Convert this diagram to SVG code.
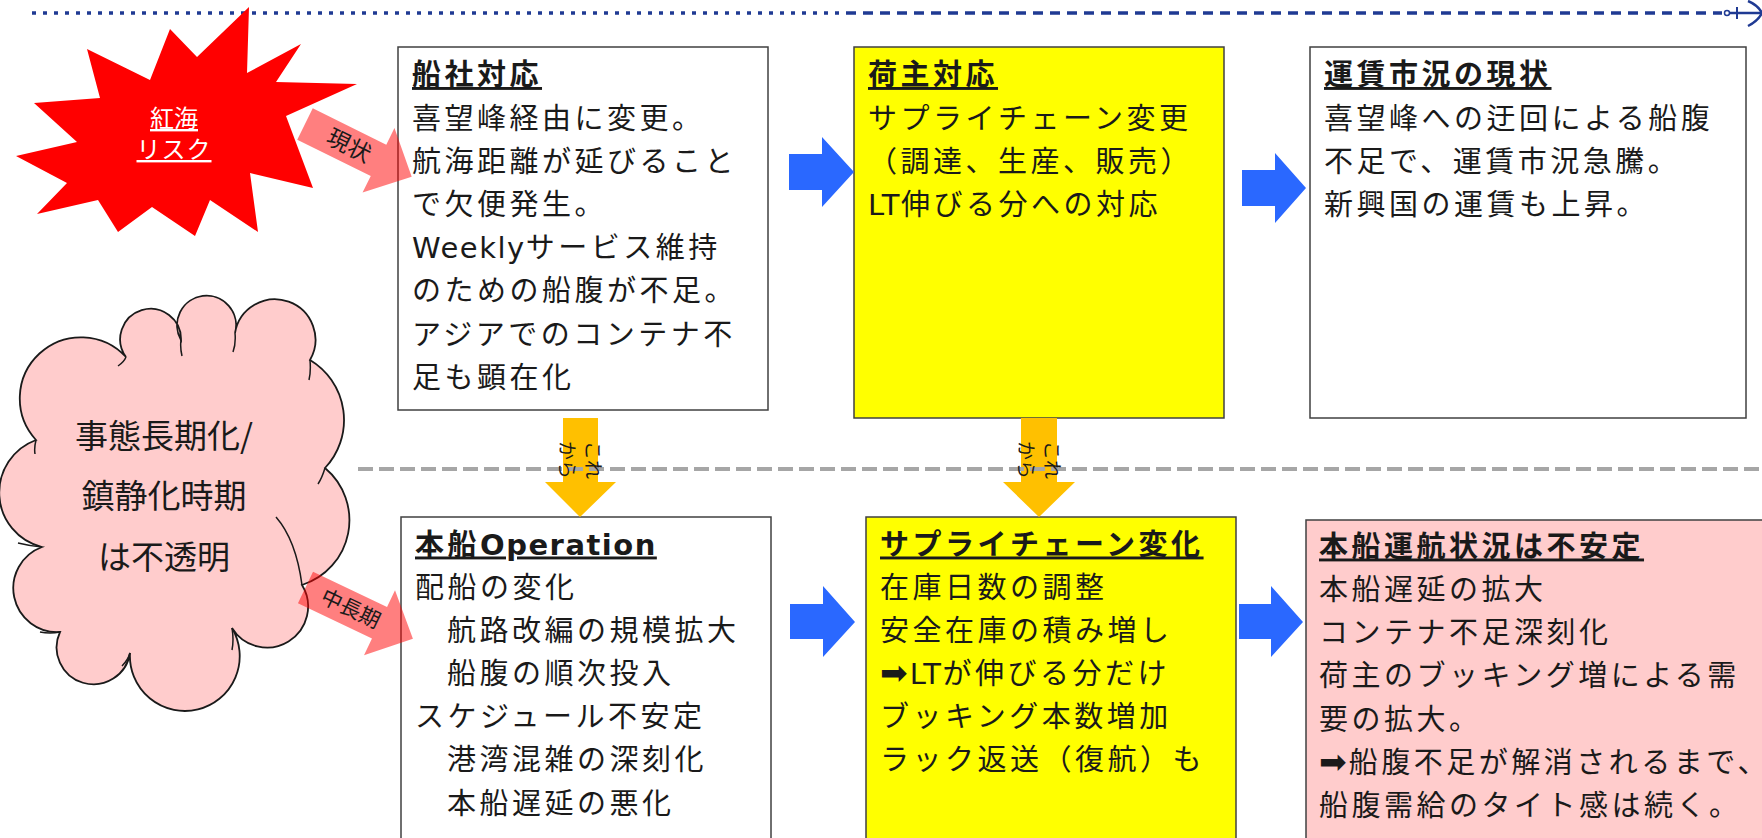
<svg xmlns="http://www.w3.org/2000/svg" width="1762" height="838" viewBox="0 0 1762 838">
<defs>
<style>
.box{stroke:#404040;stroke-width:1.5}
.t{font-family:"DejaVu Sans","Noto Sans CJK JP",sans-serif;font-size:29px;letter-spacing:3.5px;fill:#1a1a1a}
.h{font-weight:bold;text-decoration:underline}
.lat{letter-spacing:1.5px}
.arr{font-size:33px;letter-spacing:2px}
.blue{fill:#2A68FF}
.yel{fill:#FFC000}
.pink{fill:#FF0000;fill-opacity:0.5}
.lbl{font-family:"Noto Sans CJK JP",sans-serif;fill:#1a1a1a}
.tl{stroke:#1F3A93;fill:none}
</style>
</defs>
<rect width="1762" height="838" fill="#ffffff"/>

<g id="timeline">
<line class="tl" x1="32" y1="13" x2="840" y2="13" stroke-width="3.5" stroke-dasharray="4 7"/>
<line class="tl" x1="846" y1="13" x2="1722" y2="13" stroke-width="3.5" stroke-dasharray="10 7"/>
<line class="tl" x1="1730" y1="13" x2="1761" y2="13" stroke-width="2.5"/>
<circle cx="1727" cy="13" r="2.5" fill="#ffffff" stroke="#1F3A93" stroke-width="1.5"/>
<line class="tl" x1="1737" y1="7" x2="1737" y2="19" stroke-width="2"/>
<path class="tl" d="M1748,1 Q1758,5 1762,13 Q1758,21 1748,26" stroke-width="2.5"/>
</g>

<g id="redsea">
<polygon fill="#FF0000" points="249,7 247,73 301,44 276,82 357,84 286,116 313,188 250,173 258,232 210,200 195,236 152,207 118,232 98,200 37,214 67,183 16,156 77,142 34,103 100,98 87,49 150,80 170,29 197,57"/>
<text class="lbl" x="174" y="127" font-size="24" style="fill:#fff" text-anchor="middle" text-decoration="underline">紅海</text>
<text class="lbl" x="174" y="158" font-size="24" style="fill:#fff" text-anchor="middle" letter-spacing="1" text-decoration="underline">リスク</text>
</g>

<g id="cloud">
<path fill="#FFCCCC" stroke="#1a1a1a" stroke-width="1.8" d="M36,440 A58,58 0 0 1 126,357 A30.4,30.4 0 1 1 181,340 A29.5,29.5 0 1 1 235,333 A40.5,40.5 0 1 1 310,360 A70,70 0 0 1 325,468 A68,68 0 0 1 302,585 A41,41 0 1 1 232,628 A54.9,54.9 0 1 1 130,653 A36.9,36.9 0 1 1 60,632 A43.9,43.9 0 0 1 42,547 A56,56 0 0 1 36,440 Z"/>
<path fill="none" stroke="#1a1a1a" stroke-width="1.5" d="M126,357 Q124,362 118,366 M181,340 Q180,348 182,356 M235,333 Q236,344 233,352 M310,360 Q311,372 309,380 M325,468 Q322,478 318,484 M276,517 Q296,540 302,585 M232,628 Q234,640 232,650 M130,653 Q128,660 122,666 M60,632 Q50,634 40,632 M42,547 Q30,546 18,543 M36,440 Q34,448 35,454"/>
<text class="lbl" font-size="33" text-anchor="middle"><tspan x="164" y="448">事態長期化/</tspan><tspan x="164" y="508">鎮静化時期</tspan><tspan x="164" y="569">は不透明</tspan></text>
</g>

<g id="box-carrier">
<rect class="box" x="398" y="47" width="370" height="363" fill="#ffffff"/>
<text class="t"><tspan class="h" x="412" y="85">船社対応</tspan><tspan x="412" y="128.5">喜望峰経由に変更。</tspan><tspan x="412" y="171.7">航海距離が延びること</tspan><tspan x="412" y="214.9">で欠便発生。</tspan><tspan x="412" y="258.1"><tspan class="lat">Weekly</tspan>サービス維持</tspan><tspan x="412" y="301.3">のための船腹が不足。</tspan><tspan x="412" y="344.5">アジアでのコンテナ不</tspan><tspan x="412" y="387.7">足も顕在化</tspan></text>
</g>

<g id="box-shipper">
<rect class="box" x="854" y="47" width="370" height="371" fill="#FFFF00"/>
<text class="t"><tspan class="h" x="868" y="85">荷主対応</tspan><tspan x="868" y="128.5">サプライチェーン変更</tspan><tspan x="868" y="171.7">（調達、生産、販売）</tspan><tspan x="868" y="214.9"><tspan class="lat">LT</tspan>伸びる分への対応</tspan></text>
</g>

<g id="box-market">
<rect class="box" x="1310" y="47" width="436" height="371" fill="#ffffff"/>
<text class="t"><tspan class="h" x="1324" y="85">運賃市況の現状</tspan><tspan x="1324" y="128.5">喜望峰への迂回による船腹</tspan><tspan x="1324" y="171.7">不足で、運賃市況急騰。</tspan><tspan x="1324" y="214.9">新興国の運賃も上昇。</tspan></text>
</g>

<g id="box-operation">
<rect class="box" x="401" y="517" width="370" height="323" fill="#ffffff"/>
<text class="t"><tspan class="h" x="415" y="554.5">本船<tspan class="lat">Operation</tspan></tspan><tspan x="415" y="598">配船の変化</tspan><tspan x="447" y="641">航路改編の規模拡大</tspan><tspan x="447" y="684">船腹の順次投入</tspan><tspan x="415" y="727">スケジュール不安定</tspan><tspan x="447" y="770">港湾混雑の深刻化</tspan><tspan x="447" y="814">本船遅延の悪化</tspan></text>
</g>

<g id="box-supplychain">
<rect class="box" x="866" y="517" width="370" height="323" fill="#FFFF00"/>
<text class="t"><tspan class="h" x="880" y="554.5">サプライチェーン変化</tspan><tspan x="880" y="598">在庫日数の調整</tspan><tspan x="880" y="641">安全在庫の積み増し</tspan><tspan x="880" y="684"><tspan class="arr">➡</tspan><tspan class="lat">LT</tspan>が伸びる分だけ</tspan><tspan x="880" y="727">ブッキング本数増加</tspan><tspan x="880" y="770">ラック返送（復航）も</tspan></text>
</g>

<g id="box-vessel">
<rect class="box" x="1306" y="520" width="458" height="320" fill="#FFCCCC"/>
<text class="t"><tspan class="h" x="1319" y="556.5">本船運航状況は不安定</tspan><tspan x="1319" y="600">本船遅延の拡大</tspan><tspan x="1319" y="643">コンテナ不足深刻化</tspan><tspan x="1319" y="686">荷主のブッキング増による需</tspan><tspan x="1319" y="729.5">要の拡大。</tspan><tspan x="1319" y="773"><tspan class="arr">➡</tspan>船腹不足が解消されるまで、</tspan><tspan x="1319" y="816">船腹需給のタイト感は続く。</tspan></text>
</g>

<g id="connectors">
<g transform="translate(305,124) rotate(26.3)">
<polygon class="pink" points="0,-17.5 82,-17.5 82,-36 119,0 82,36 82,17.5 0,17.5"/>
<text class="lbl" x="49" y="8" font-size="23" text-anchor="middle">現状</text>
</g>
<g transform="translate(305.5,587.5) rotate(25.5)">
<polygon class="pink" points="0,-17.5 82,-17.5 82,-36 119,0 82,36 82,17.5 0,17.5"/>
<text class="lbl" x="50" y="7" font-size="21" text-anchor="middle">中長期</text>
</g>
<polygon class="blue" points="789,154 822,154 822,137 854,172 822,207 822,190 789,190"/>
<polygon class="blue" points="1242,170 1275,170 1275,153 1306,188 1275,223 1275,206 1242,206"/>
<polygon class="blue" points="790,604 823,604 823,586 855,622 823,657 823,639 790,639"/>
<polygon class="blue" points="1239,604 1271,604 1271,586 1303,622 1271,657 1271,639 1239,639"/>
<polygon class="yel" points="563,418 598,418 598,482 616,482 580,517 545,482 563,482"/>
<polygon class="yel" points="1021,418 1057,418 1057,482 1075,482 1039,517 1003,482 1021,482"/>
</g>

<g id="separator">
<line x1="358" y1="469" x2="1762" y2="469" stroke="#A6A6A6" stroke-width="4" stroke-dasharray="15 6"/>
</g>

<g id="connector-labels">
<text class="lbl" font-size="19" transform="translate(580,460) rotate(90)" text-anchor="middle"><tspan x="0" y="-6">これ</tspan><tspan x="0" y="20">から</tspan></text>
<text class="lbl" font-size="19" transform="translate(1039,460) rotate(90)" text-anchor="middle"><tspan x="0" y="-6">これ</tspan><tspan x="0" y="20">から</tspan></text>
</g>
</svg>
